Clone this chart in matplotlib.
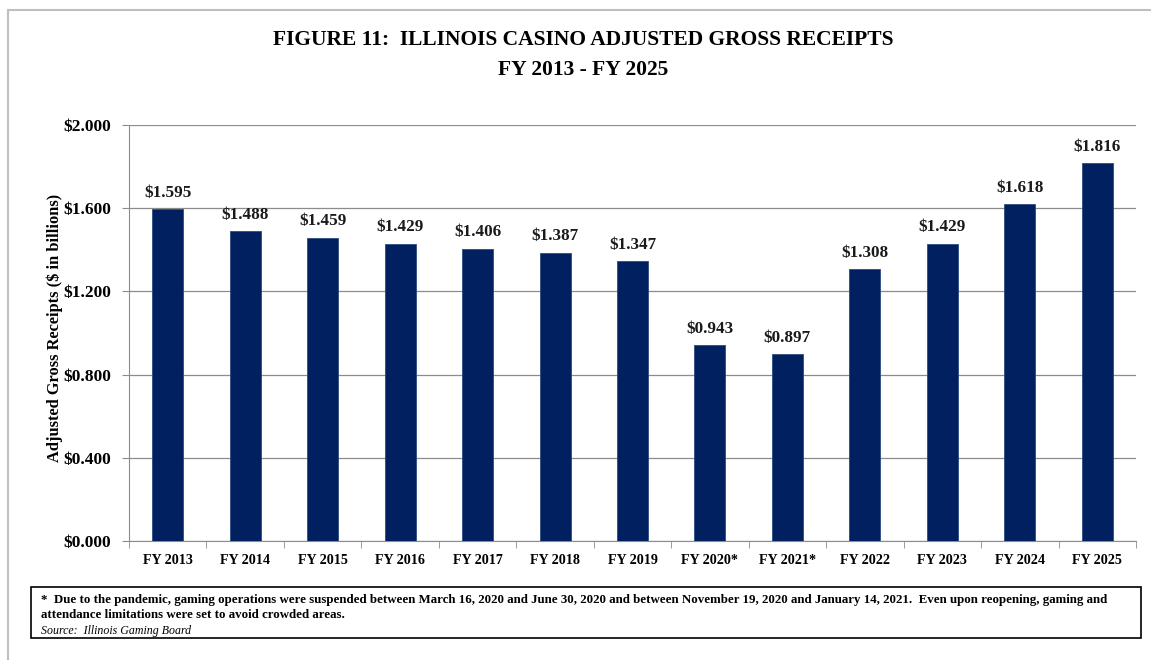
import matplotlib
matplotlib.use("Agg")
import matplotlib.pyplot as plt
from matplotlib.patches import Rectangle
from matplotlib.ticker import FixedLocator, NullFormatter

categories = ["FY 2013", "FY 2014", "FY 2015", "FY 2016", "FY 2017", "FY 2018", "FY 2019",
              "FY 2020*", "FY 2021*", "FY 2022", "FY 2023", "FY 2024", "FY 2025"]
values = [1.595, 1.488, 1.459, 1.429, 1.406, 1.387, 1.347, 0.943, 0.897, 1.308, 1.429, 1.618, 1.816]
yticks = [0.0, 0.4, 0.8, 1.2, 1.6, 2.0]

title = "FIGURE 11:  ILLINOIS CASINO ADJUSTED GROSS RECEIPTS\nFY 2013 - FY 2025"
ylabel = "Adjusted Gross Receipts ($ in billions)"
note1 = ("*  Due to the pandemic, gaming operations were suspended between March 16, 2020 and June 30, 2020 and between "
         "November 19, 2020 and January 14, 2021.  Even upon reopening, gaming and\nattendance limitations were set to avoid crowded areas.")
note2 = "Source:  Illinois Gaming Board"

serif = ["Liberation Serif", "DejaVu Serif"]

W, H = 1151, 660
fig = plt.figure(figsize=(W / 100, H / 100), dpi=100)

# outer frame
fig.add_artist(Rectangle((8 / W, -0.01), 1.1, (H - 10) / H + 0.01, transform=fig.transFigure,
                         fill=False, edgecolor="#bfbfbf", linewidth=1.5))

ax = fig.add_axes([129 / W, 1 - 541 / H, (1136 - 129) / W, (541 - 125) / H])
x = list(range(len(categories)))
ax.bar(x, values, width=0.40, color="#002060", edgecolor="#2d4a80", linewidth=0.6, zorder=3)
for xi, v in zip(x, values):
    ax.text(xi, v + 0.04, f"${v:.3f}", ha="center", va="bottom", fontsize=12.3,
            fontweight="bold", family=serif, color="#1a1a1a")

ax.set_xlim(-0.5, len(categories) - 0.5)
ax.set_ylim(0, 2.0)
ax.set_yticks(yticks)
ax.set_yticklabels([f"${t:.3f}" for t in yticks], fontsize=12.5, fontweight="bold", family=serif)
ax.set_xticks(x)
ax.set_xticklabels(categories, fontsize=10.2, fontweight="bold", family=serif)
ax.tick_params(axis="x", length=0, pad=9)
ax.xaxis.set_minor_locator(FixedLocator([i + 0.5 for i in range(-1, len(categories))]))
ax.xaxis.set_minor_formatter(NullFormatter())
ax.tick_params(axis="x", which="minor", length=5, color="#8c8c8c")
ax.tick_params(axis="y", length=5, color="#8c8c8c", pad=8)
ax.grid(axis="y", color="#8c8c8c", linewidth=0.9, zorder=0)
for s in ["top", "right"]:
    ax.spines[s].set_visible(False)
for s in ["left", "bottom"]:
    ax.spines[s].set_color("#8c8c8c")
ax.set_ylabel(ylabel, fontsize=11.8, fontweight="bold", family=serif)
ax.yaxis.set_label_coords(-0.0655, 0.512)

fig.text(0.507, 1 - 55 / H, title, ha="center", va="center", fontsize=15.5, fontweight="bold",
         family=serif, linespacing=1.7)

# footnote box
fig.add_artist(Rectangle((31 / W, 1 - 638 / H), (1141 - 31) / W, (638 - 587) / H,
                         transform=fig.transFigure, fill=False, edgecolor="black", linewidth=1.2))
fig.text(41 / W, 1 - 593.5 / H, note1, ha="left", va="top", fontsize=9.25, fontweight="bold",
         family=serif, linespacing=1.42)
fig.text(41 / W, 1 - 631 / H, note2, ha="left", va="center", fontsize=8.6, style="italic",
         family=serif)

fig.savefig("out.png", dpi=100)
